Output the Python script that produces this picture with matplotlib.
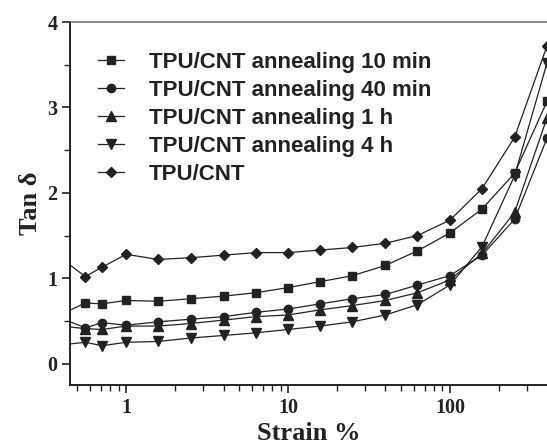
import numpy as np
import matplotlib
matplotlib.use("Agg")
import matplotlib.pyplot as plt
from matplotlib.ticker import LogLocator, MultipleLocator, NullFormatter

# strain sweep (%), first point lies just left of the visible range
strain = [0.398, 0.56, 0.71, 1.0, 1.58, 2.5, 4.0, 6.3, 10, 15.8, 25, 40, 63, 100, 158, 251, 398]

tan_10min = [0.58, 0.71, 0.70, 0.74, 0.73, 0.76, 0.79, 0.83, 0.89, 0.96, 1.03, 1.15, 1.32, 1.53, 1.81, 2.23, 3.07]
tan_40min = [0.53, 0.42, 0.48, 0.45, 0.49, 0.52, 0.55, 0.60, 0.64, 0.70, 0.76, 0.81, 0.92, 1.03, 1.27, 1.69, 2.64]
tan_1h = [0.44, 0.41, 0.40, 0.44, 0.44, 0.47, 0.51, 0.55, 0.57, 0.63, 0.68, 0.74, 0.83, 0.98, 1.29, 1.77, 2.88]
tan_4h = [0.22, 0.25, 0.21, 0.25, 0.26, 0.30, 0.33, 0.36, 0.40, 0.44, 0.49, 0.57, 0.69, 0.92, 1.37, 2.20, 3.52]
tan_raw = [1.23, 1.02, 1.13, 1.28, 1.22, 1.24, 1.27, 1.30, 1.30, 1.33, 1.36, 1.41, 1.50, 1.68, 2.05, 2.65, 3.72]

labels = ["TPU/CNT annealing 10 min", "TPU/CNT annealing 40 min",
          "TPU/CNT annealing 1 h", "TPU/CNT annealing 4 h", "TPU/CNT"]
series = [tan_10min, tan_40min, tan_1h, tan_4h, tan_raw]
markers = ["s", "o", "^", "v", "D"]
msizes = [5.5, 6, 6.5, 6.5, 5.5]

ink = "#222222"

fig = plt.figure(figsize=(5.47, 4.44), dpi=100)
ax = fig.add_axes([70/547, 1-385/444, 477/547, 363/444])

for y, m, ms, lab in zip(series, markers, msizes, labels):
    ax.plot(strain, y, color=ink, lw=0.9, marker=m, ms=ms, mfc=ink, mec=ink, label=lab)

ax.set_xscale("log")
ax.set_xlim(0.45, 398)
ax.set_ylim(-0.25, 4)

ax.xaxis.set_major_locator(LogLocator(base=10))
ax.xaxis.set_minor_locator(LogLocator(base=10, subs=np.arange(2, 10)))
ax.xaxis.set_minor_formatter(NullFormatter())
ax.set_xticks([1, 10, 100])
ax.set_xticklabels(["1", "10", "100"])
ax.yaxis.set_major_locator(MultipleLocator(1))
ax.yaxis.set_minor_locator(MultipleLocator(0.5))

tickfont = dict(family="Liberation Serif", weight="bold", size=14.5)
for t in ax.get_xticklabels() + ax.get_yticklabels():
    t.set_fontproperties(matplotlib.font_manager.FontProperties(**tickfont))
    t.set_color(ink)

ax.tick_params(which="major", direction="out", length=6, width=1.2, color=ink, pad=3,
               top=False, right=False)
ax.tick_params(which="minor", direction="out", length=4, width=1, color=ink,
               top=False, right=False)

for s in ["left", "bottom"]:
    ax.spines[s].set_linewidth(1.4)
    ax.spines[s].set_color(ink)
ax.spines["top"].set_linewidth(1.1)
ax.spines["top"].set_color("#666666")
ax.spines["right"].set_visible(False)

ax.set_xlabel("Strain %", family="Liberation Serif", weight="bold", size=19, color=ink, labelpad=3)
ax.set_ylabel("Tan δ", family="Liberation Serif", weight="bold", size=19, color=ink, labelpad=4)

leg = ax.legend(loc="upper left", bbox_to_anchor=(0.058, 0.918), frameon=False,
                borderpad=0, borderaxespad=0, handlelength=1.2, handletextpad=1.1,
                labelspacing=0.32, prop=dict(family="Liberation Sans", weight="bold", size=16))
for t in leg.get_texts():
    t.set_color(ink)

fig.savefig("out.png", dpi=100)
